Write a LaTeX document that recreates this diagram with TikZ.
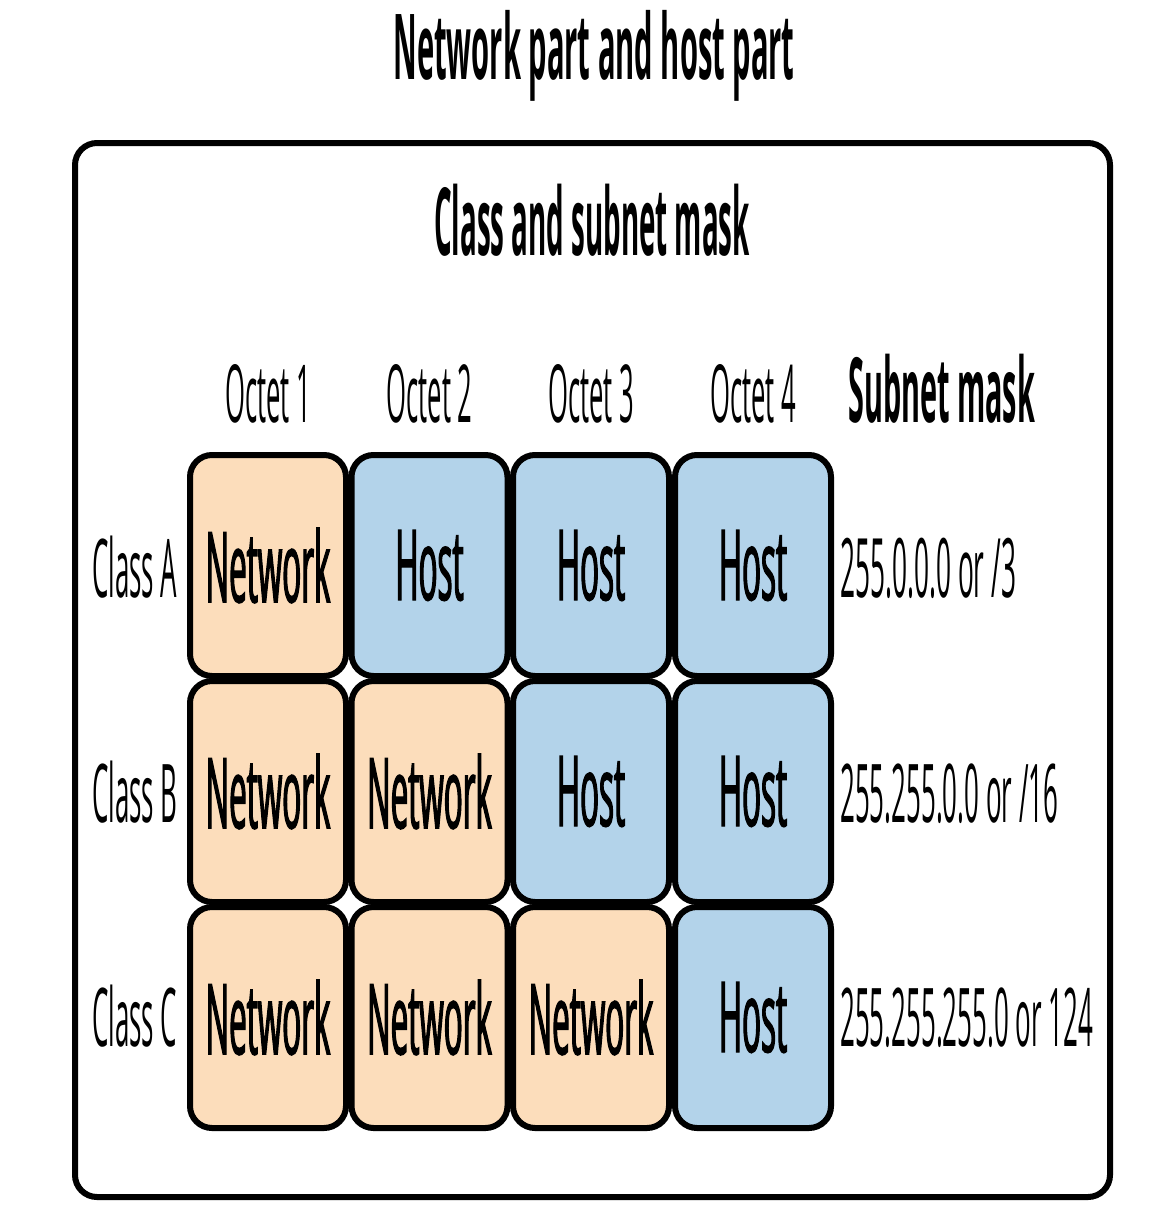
\documentclass[tikz,border=0pt]{standalone}
\usepackage{fontspec}
\setmainfont[FakeStretch=0.32]{Open Sans}
\newfontfamily\cellfont[FakeStretch=0.32,FakeBold=1.2]{Open Sans}
\newfontfamily\subfont[FakeStretch=0.295]{Open Sans}
\definecolor{peach}{HTML}{FCDDBB}
\definecolor{hostblue}{HTML}{B3D3EA}
\tikzset{
  cellbox/.style={draw=black, line width=6pt, rounded corners=22pt, minimum width=156pt, minimum height=221pt, inner sep=0pt, font=\cellfont\fontsize{98}{98}\selectfont},
  netcell/.style={cellbox, fill=peach},
  hostcell/.style={cellbox, fill=hostblue},
  lbl/.style={inner sep=0pt, anchor=base},
  lbll/.style={inner sep=0pt, anchor=base west},
}
\begin{document}
\begin{tikzpicture}[x=1pt,y=-1pt]
\useasboundingbox (0,0) rectangle (1169,1207);
% titles
\node[lbl, font=\fontsize{91}{91}\selectfont\bfseries] (title) at (594,80) {Network part and host part};
\node[draw=black, line width=6pt, rounded corners=22pt, minimum width=1035pt, minimum height=1054pt, inner sep=0pt] (frame) at (592.5,670) {};
\node[lbl, font=\subfont\fontsize{94}{94}\selectfont\bfseries] (sub) at (592,255) {Class and subnet mask};
% headers
\node[lbl, font=\fontsize{80}{80}\selectfont] (o1) at (268,422) {Octet 1};
\node[lbl, font=\fontsize{80}{80}\selectfont] (o2) at (429.5,422) {Octet 2};
\node[lbl, font=\fontsize{80}{80}\selectfont] (o3) at (591,422) {Octet 3};
\node[lbl, font=\fontsize{80}{80}\selectfont] (o4) at (753,422) {Octet 4};
\node[lbll, font=\fontsize{90}{90}\selectfont\bfseries] (sm) at (848,422) {Subnet mask};
% row labels
\node[lbll, font=\fontsize{81}{81}\selectfont] (ca) at (92,597) {Class A};
\node[lbll, font=\fontsize{81}{81}\selectfont] (cb) at (92,822) {Class B};
\node[lbll, font=\fontsize{81}{81}\selectfont] (cc) at (92,1046) {Class C};
% cells
\node[netcell] (a1) at (268,565.5) {Network};
\node[hostcell] (a2) at (429.5,565.5) {Host};
\node[hostcell] (a3) at (591,565.5) {Host};
\node[hostcell] (a4) at (753,565.5) {Host};
\node[netcell] (b1) at (268,791.5) {Network};
\node[netcell] (b2) at (429.5,791.5) {Network};
\node[hostcell] (b3) at (591,791.5) {Host};
\node[hostcell] (b4) at (753,791.5) {Host};
\node[netcell] (c1) at (268,1017.5) {Network};
\node[netcell] (c2) at (429.5,1017.5) {Network};
\node[netcell] (c3) at (591,1017.5) {Network};
\node[hostcell] (c4) at (753,1017.5) {Host};
% masks
\node[lbll, font=\fontsize{82}{82}\selectfont] (ma) at (840,597) {255.0.0.0 or /3};
\node[lbll, font=\fontsize{81}{81}\selectfont] (mb) at (840,822) {255.255.0.0 or /16};
\node[lbll, font=\fontsize{81}{81}\selectfont] (mc) at (840,1046) {255.255.255.0 or 124};
\end{tikzpicture}
\end{document}
